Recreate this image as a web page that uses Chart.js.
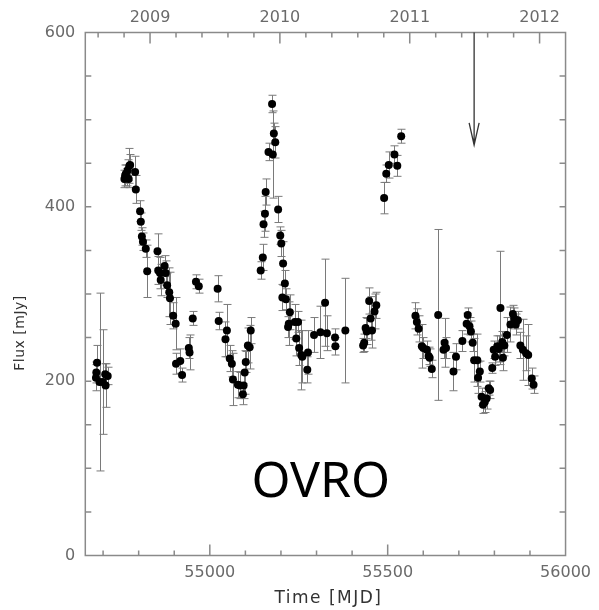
<!DOCTYPE html>
<html>
<head>
<meta charset="utf-8">
<script src="https://cdn.jsdelivr.net/npm/chart.js@4/dist/chart.umd.min.js"></script>
<style>
html,body{margin:0;padding:0;background:#fff;}
#wrap{width:599px;height:610px;}
</style>
</head>
<body>
<div id="wrap"><canvas id="c" width="599" height="610"></canvas></div>
<script>
// ---- data ----
const mjd = [54680,54681,54683,54690,54699,54706,54707,54713,
 54760,54762,54764,54766,54769,54772,54774,54776,54790,54792,54804,54806,54809,54812,54820,54824,
 54853,54855,54860,54862,54873,54876,54880,54886,54888,54897,54904,54905,54917,54922,54941,54943,54952,54961,54969,
 55022,55025,55044,55048,55056,55062,55065,55079,55085,55093,55095,55098,55101,55107,55112,55115,
 55143,55149,55151,55155,55157,55165,55175,55177,55180,55184,55192,55198,55201,55204,55206,55211,55214,
 55220,55222,55225,55239,55243,55248,55251,55257,55260,55274,55276,55293,55311,55324,55329,55352,55353,55381,
 55431,55434,55438,55441,55448,55452,55456,55463,55468,55490,55496,55503,55519,55527,55538,
 55578,55582,55587,55596,55600,55610,55615,55618,55624,55642,55657,55660,55664,55685,55692,55710,
 55722,55725,55730,55734,55739,55743,55752,55754,55759,55764,55768,55773,55778,55784,55788,55794,
 55798,55802,55808,55812,55817,55822,55824,55828,55835,55845,55852,55856,55860,55866,55873,55880,
 55889,55895,55905,55910];
const flux = [204,210,221,199,199,208,195,206,
 432,436,438,434,442,432,447,448,440,420,395,383,366,360,352,326,
 349,327,324,316,332,324,310,302,295,275,266,220,223,207,238,233,272,314,309,
 306,269,248,258,226,220,202,196,195,185,195,210,222,241,239,258,
 327,342,380,392,417,463,518,460,484,474,397,367,358,296,335,312,294,
 262,266,279,268,249,268,238,230,228,213,233,253,256,290,255,250,240,258,
 241,244,261,257,292,272,258,280,287,410,438,448,460,447,481,
 275,268,260,240,238,236,229,227,214,276,236,244,238,211,228,246,
 266,276,263,257,244,224,224,204,211,182,173,176,180,192,190,215,
 236,228,240,237,284,245,227,241,253,265,277,272,265,270,241,236,
 232,230,203,196];
const err = [15,12,20,102,60,12,25,10,
 10,12,10,10,12,10,20,12,18,16,12,10,10,10,10,30,
 20,16,18,18,12,14,14,28,30,15,30,12,14,8,12,20,8,8,8,
 15,10,20,30,15,15,30,15,15,12,15,25,12,20,25,15,
 10,15,15,20,15,10,10,50,12,18,15,10,15,15,25,15,12,
 12,25,20,20,20,12,20,40,30,15,25,20,30,50,20,10,10,60,
 8,10,12,15,15,25,20,20,15,18,10,15,10,12,8,
 15,15,15,25,12,10,10,10,10,98,10,28,12,22,15,12,
 12,8,10,12,10,25,30,18,12,10,10,12,12,8,10,6,
 10,10,12,15,65,12,15,12,20,20,10,12,12,10,15,35,
 20,35,12,10];

const xLabelTicks = [55000, 55500, 56000];
const xMajorTicks = [55000, 55500];
const xMinorTicks = [54700,54800,54900,55100,55200,55300,55400,55600,55700,55800,55900];
const yLabelTicks = [0, 200, 400, 600];
const yMinorTicks = [50,100,150,200,250,300,350,400,450,500,550];
const yearTicks = [54832, 55197, 55562, 55927];
const yearLabels = ['2009', '2010', '2011', '2012'];
const yearMinorTicks = [54686,54759,54905,54978,55051,55124,55270,55343,55416,55489,55635,55708,55781,55854,56000];
const arrowMJD = 55743, arrowFrom = 600, arrowTo = 471;
const labelText = 'OVRO', labelMJD = 55312, labelFlux = 84;
const xTitle = 'Time [MJD]', yTitle = 'Flux [mJy]';

const AXIS = '#8a8a8a';
const FONT = 'DejaVu Sans';

const deco = {
  id: 'deco',
  beforeDatasetsDraw(chart) {
    const {ctx, scales: {x, y}} = chart;
    ctx.save();
    ctx.strokeStyle = '#7a7a7a';
    ctx.lineWidth = 1;
    for (let i = 0; i < mjd.length; i++) {
      const px = Math.round(x.getPixelForValue(mjd[i])) + 0.5;
      const y1 = y.getPixelForValue(flux[i] - err[i]);
      const y2 = y.getPixelForValue(flux[i] + err[i]);
      ctx.beginPath();
      ctx.moveTo(px, y1); ctx.lineTo(px, y2);
      ctx.moveTo(px - 4, y1); ctx.lineTo(px + 4, y1);
      ctx.moveTo(px - 4, y2); ctx.lineTo(px + 4, y2);
      ctx.stroke();
    }
    ctx.restore();
  },
  afterDraw(chart) {
    const {ctx, chartArea: a, scales: {x, y}} = chart;
    ctx.save();
    ctx.strokeStyle = AXIS;
    ctx.lineWidth = 1.5;
    ctx.strokeRect(a.left, a.top, a.right - a.left, a.bottom - a.top);
    ctx.beginPath();
    const vt = (v, len) => {
      const px = x.getPixelForValue(v);
      ctx.moveTo(px, a.bottom); ctx.lineTo(px, a.bottom - len);
    };
    xMajorTicks.forEach(v => vt(v, 11));
    xMinorTicks.forEach(v => vt(v, 5));
    const tt = (v, len) => {
      if (v <= x.min || v >= x.max) return;
      const px = x.getPixelForValue(v);
      ctx.moveTo(px, a.top); ctx.lineTo(px, a.top + len);
    };
    yearTicks.forEach(v => tt(v, 11));
    yearMinorTicks.forEach(v => tt(v, 5));
    yMinorTicks.forEach(v => {
      const py = y.getPixelForValue(v);
      ctx.moveTo(a.left, py); ctx.lineTo(a.left + 6, py);
      ctx.moveTo(a.right, py); ctx.lineTo(a.right - 6, py);
    });
    ctx.stroke();
    // arrow
    const ax = x.getPixelForValue(arrowMJD);
    const ay1 = y.getPixelForValue(arrowFrom);
    const ay2 = y.getPixelForValue(arrowTo);
    ctx.strokeStyle = '#333';
    ctx.lineWidth = 1.3;
    ctx.beginPath();
    ctx.moveTo(ax, ay1); ctx.lineTo(ax, ay2);
    ctx.moveTo(ax - 5, ay2 - 22); ctx.lineTo(ax, ay2); ctx.lineTo(ax + 5, ay2 - 22);
    ctx.stroke();
    // label
    ctx.fillStyle = '#000';
    ctx.font = '50px "Noto Sans"';
    ctx.textAlign = 'center';
    ctx.textBaseline = 'middle';
    ctx.fillText(labelText, x.getPixelForValue(labelMJD), y.getPixelForValue(labelFlux));
    // axis titles
    ctx.fillStyle = '#333';
    ctx.font = '17px "DejaVu Sans"';
    if ('letterSpacing' in ctx) ctx.letterSpacing = '1.5px';
    ctx.fillText(xTitle, (a.left + a.right) / 2 + 3, 599);
    ctx.font = '14px "DejaVu Sans"';
    if ('letterSpacing' in ctx) ctx.letterSpacing = '0.5px';
    ctx.translate(20, 333);
    ctx.rotate(-Math.PI / 2);
    ctx.fillText(yTitle, 0, 0);
    ctx.restore();
  }
};

const tickFont = {family: FONT, size: 16};

new Chart(document.getElementById('c'), {
  type: 'scatter',
  data: {
    datasets: [{
      data: mjd.map((m, i) => ({x: m, y: flux[i]})),
      backgroundColor: '#000',
      borderWidth: 0,
      pointRadius: 4,
      pointHoverRadius: 4
    }]
  },
  options: {
    responsive: false,
    animation: false,
    devicePixelRatio: 1,
    layout: {padding: {left: 0, right: 29, top: 0, bottom: 0}},
    plugins: {legend: {display: false}, tooltip: {enabled: false}},
    scales: {
      x: {
        type: 'linear', position: 'bottom', min: 54650, max: 56000,
        afterBuildTicks: s => { s.ticks = xLabelTicks.map(v => ({value: v})); },
        afterFit: s => { s.height = 54.5; },
        grid: {display: false, drawTicks: false},
        border: {display: false},
        ticks: {font: tickFont, color: '#6a6a6a', padding: 8, maxRotation: 0, callback: v => String(v)}
      },
      x2: {
        type: 'linear', position: 'top', min: 54650, max: 56000,
        afterBuildTicks: s => { s.ticks = yearTicks.map(v => ({value: v})); },
        afterFit: s => { s.height = 32.5; },
        grid: {display: false, drawTicks: false},
        border: {display: false},
        ticks: {font: tickFont, color: '#6a6a6a', padding: 5, maxRotation: 0,
          callback: (v) => { const k = yearTicks.indexOf(v); return k >= 0 ? yearLabels[k] : ''; }}
      },
      y: {
        type: 'linear', position: 'left', min: 0, max: 600,
        afterBuildTicks: s => { s.ticks = yLabelTicks.map(v => ({value: v})); },
        afterFit: s => { s.width = 85.3; },
        grid: {display: false, drawTicks: false},
        border: {display: false},
        ticks: {font: tickFont, color: '#6a6a6a', padding: 10, callback: v => String(v)}
      }
    }
  },
  plugins: [deco]
});
</script>
</body>
</html>
